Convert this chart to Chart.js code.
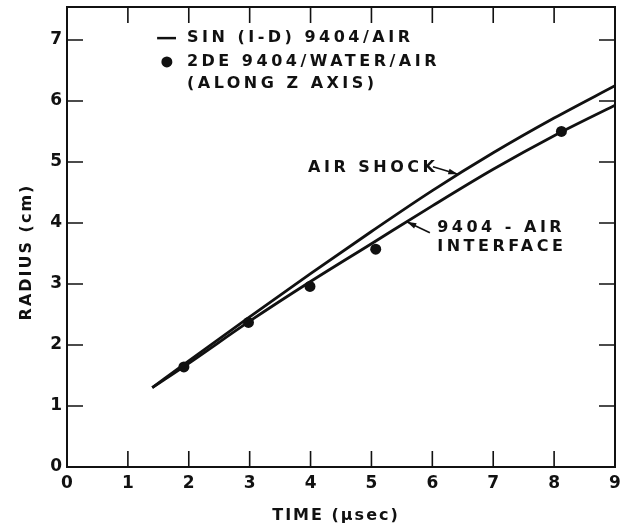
<!DOCTYPE html>
<html>
<head>
<meta charset="utf-8">
<script src="https://cdn.jsdelivr.net/npm/chart.js@4"></script>
<style>
  html, body { margin: 0; background: #fff; }
  #wrap { width: 622px; height: 531px; }
</style>
</head>
<body>
<div id="wrap"><canvas id="c"></canvas></div>
<script>
// valores
const timeShock = [1.4, 2, 3, 4, 5, 6, 7, 8, 9];
const radiusShock = [1.3, 1.74, 2.46, 3.17, 3.86, 4.53, 5.15, 5.72, 6.25];
const timeIface = [1.4, 2, 3, 4, 5, 6, 7, 8, 9];
const radiusIface = [1.3, 1.70, 2.39, 3.04, 3.66, 4.28, 4.88, 5.43, 5.93];
const time2de = [1.92, 2.98, 3.99, 5.07, 8.12];
const radius2de = [1.64, 2.37, 2.96, 3.57, 5.50];
const xTicks = [0, 1, 2, 3, 4, 5, 6, 7, 8, 9];
const yTicks = [0, 1, 2, 3, 4, 5, 6, 7];
const legendLines = ['SIN (I-D) 9404/AIR', '2DE 9404/WATER/AIR', '(ALONG Z AXIS)'];

const INK = '#111';
const FONT = '"DejaVu Sans", sans-serif';

const pts = (xs, ys) => xs.map((x, i) => ({ x, y: ys[i] }));

// 1) moldura, ticks internos, textos e setas
const decor = {
  id: 'decor',
  afterDraw(chart) {
    const { ctx, chartArea: a, scales: { x, y } } = chart;
    ctx.save();
    ctx.strokeStyle = INK;
    ctx.fillStyle = INK;
    ctx.lineWidth = 2;
    ctx.strokeRect(a.left, a.top, a.right - a.left, a.bottom - a.top);

    const tl = 16;
    ctx.lineWidth = 1.6;
    xTicks.slice(1, -1).forEach(v => {
      const px = x.getPixelForValue(v);
      ctx.beginPath();
      ctx.moveTo(px, a.bottom); ctx.lineTo(px, a.bottom - tl);
      ctx.moveTo(px, a.top); ctx.lineTo(px, a.top + tl);
      ctx.stroke();
    });
    yTicks.slice(1).forEach(v => {
      const py = y.getPixelForValue(v);
      ctx.beginPath();
      ctx.moveTo(a.left, py); ctx.lineTo(a.left + tl, py);
      ctx.moveTo(a.right, py); ctx.lineTo(a.right - tl, py);
      ctx.stroke();
    });

    const X = v => x.getPixelForValue(v);
    const Y = v => y.getPixelForValue(v);

    ctx.font = 'bold 16px ' + FONT;
    ctx.letterSpacing = '3.5px';
    ctx.textBaseline = 'middle';
    ctx.textAlign = 'left';

    // legenda
    ctx.lineWidth = 2.5;
    ctx.beginPath();
    ctx.moveTo(X(1.48), Y(7.03)); ctx.lineTo(X(1.79), Y(7.03));
    ctx.stroke();
    ctx.beginPath();
    ctx.arc(X(1.64), Y(6.64), 5.5, 0, Math.PI * 2);
    ctx.fill();
    ctx.fillText(legendLines[0], X(1.97), Y(7.03));
    ctx.fillText(legendLines[1], X(1.97), Y(6.64));
    ctx.fillText(legendLines[2], X(1.97), Y(6.28));

    // anotações
    ctx.fillText('AIR SHOCK', X(3.96), Y(4.90));
    ctx.fillText('9404 - AIR', X(6.08), Y(3.92));
    ctx.fillText('INTERFACE', X(6.08), Y(3.61));

    const arrow = (x0, y0, x1, y1) => {
      const ang = Math.atan2(Y(y1) - Y(y0), X(x1) - X(x0));
      ctx.lineWidth = 1.6;
      ctx.beginPath();
      ctx.moveTo(X(x0), Y(y0)); ctx.lineTo(X(x1), Y(y1));
      ctx.stroke();
      ctx.beginPath();
      ctx.moveTo(X(x1), Y(y1));
      ctx.lineTo(X(x1) - 10 * Math.cos(ang - 0.3), Y(y1) - 10 * Math.sin(ang - 0.3));
      ctx.lineTo(X(x1) - 10 * Math.cos(ang + 0.3), Y(y1) - 10 * Math.sin(ang + 0.3));
      ctx.closePath();
      ctx.fill();
    };
    arrow(6.01, 4.92, 6.42, 4.80);
    arrow(5.96, 3.84, 5.58, 4.02);

    // títulos dos eixos
    ctx.font = 'bold 16px ' + FONT;
    ctx.letterSpacing = '2px';
    ctx.textAlign = 'center';
    ctx.fillText('TIME (\u03bcsec)', 336, 516);
    ctx.translate(27, 252);
    ctx.rotate(-Math.PI / 2);
    ctx.fillText('RADIUS (cm)', 0, 0);
    ctx.restore();
  }
};

// 2) gráfico
new Chart(document.getElementById('c'), {
  type: 'scatter',
  data: {
    datasets: [
      {
        label: 'Air shock',
        data: pts(timeShock, radiusShock),
        showLine: true,
        borderColor: INK,
        borderWidth: 2.8,
        pointRadius: 0,
        cubicInterpolationMode: 'monotone'
      },
      {
        label: '9404 - air interface',
        data: pts(timeIface, radiusIface),
        showLine: true,
        borderColor: INK,
        borderWidth: 2.8,
        pointRadius: 0,
        cubicInterpolationMode: 'monotone'
      },
      {
        label: '2DE',
        data: pts(time2de, radius2de),
        showLine: false,
        pointRadius: 5.5,
        pointBackgroundColor: INK,
        pointBorderColor: INK,
        pointBorderWidth: 0
      }
    ]
  },
  options: {
    responsive: true,
    maintainAspectRatio: false,
    animation: false,
    events: [],
    layout: { padding: { top: 7, right: 7, left: 0, bottom: 0 } },
    plugins: { legend: { display: false }, tooltip: { enabled: false } },
    scales: {
      x: {
        type: 'linear',
        min: 0, max: 9,
        afterFit: s => { s.height = 64; s.paddingLeft = 0; s.paddingRight = 0; },
        afterBuildTicks: s => { s.ticks = xTicks.map(v => ({ value: v })); },
        grid: { display: false, drawTicks: false },
        border: { display: false },
        ticks: { padding: 6, color: INK, font: { family: FONT, size: 17, weight: 'bold' } }
      },
      y: {
        type: 'linear',
        min: 0, max: 7.54,
        afterFit: s => { s.width = 67; s.paddingTop = 0; s.paddingBottom = 0; },
        afterBuildTicks: s => { s.ticks = yTicks.map(v => ({ value: v })); },
        grid: { display: false, drawTicks: false },
        border: { display: false },
        ticks: { padding: 5, color: INK, font: { family: FONT, size: 17, weight: 'bold' } }
      }
    }
  },
  plugins: [decor]
});
</script>
</body>
</html>
